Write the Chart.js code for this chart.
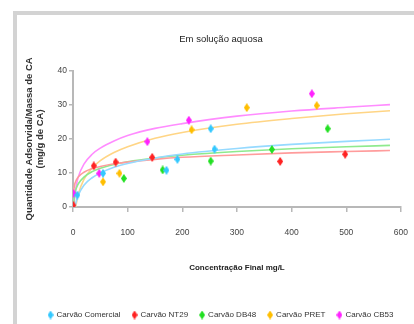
<!DOCTYPE html>
<html>
<head>
<meta charset="utf-8">
<script src="https://cdn.jsdelivr.net/npm/chart.js@4.4.1/dist/chart.umd.min.js"></script>
<style>
  html, body { margin: 0; padding: 0; width: 414px; height: 324px; overflow: hidden; background: #fff; }
  #frame { position: absolute; left: 13px; top: 11px; width: 420px; height: 330px;
           border-left: 4px solid #d3d3d3; border-top: 4px solid #d3d3d3; }
  #chart { position: absolute; left: 0; top: 0; }
</style>
</head>
<body>
<div id="frame"></div>
<canvas id="chart" width="424" height="329"></canvas>
<script>
// series names (legend)
const seriesNames = ["Carvão Comercial", "Carvão NT29", "Carvão DB48", "Carvão PRET", "Carvão CB53"];
const markerColors = ["#33C8FF", "#FF2222", "#22E022", "#FFBE00", "#FF22FF"];
const trendColors = ["#96DAFF", "#FF9C9C", "#8EEA8E", "#FFD585", "#FF8CFF"];

// measured points (final concentration mg/L, adsorbed mg/g)
const comercialX = [8, 55, 171, 191, 252, 259];
const comercialY = [3.5, 9.9, 10.8, 14, 23, 17];
const nt29X = [0.5, 38, 78, 145, 379, 498];
const nt29Y = [0.5, 12.1, 13.2, 14.6, 13.4, 15.5];
const db48X = [93, 164, 252, 364, 466];
const db48Y = [8.4, 10.9, 13.5, 16.9, 23];
const pretX = [55, 85, 217, 318, 446];
const pretY = [7.4, 9.9, 22.7, 29.2, 29.8];
const cb53X = [1, 48, 136, 212, 437];
const cb53Y = [4, 9.9, 19.2, 25.5, 33.3];

// trendlines
const trendX = [1, 3, 6, 10, 20, 35, 50, 75, 100, 150, 200, 300, 400, 500, 580];
const trendComercial = [-5.6, -1.2, 1.6, 3.6, 6.4, 8.6, 10.0, 11.7, 12.8, 14.4, 15.6, 17.2, 18.4, 19.3, 19.9];
const trendNT29 = [4.5, 6.6, 7.9, 8.9, 10.2, 11.3, 11.9, 12.7, 13.2, 14.0, 14.6, 15.3, 15.9, 16.3, 16.6];
const trendDB48 = [0.6, 3.6, 5.5, 6.9, 8.8, 10.4, 11.4, 12.5, 13.3, 14.4, 15.2, 16.3, 17.1, 17.7, 18.1];
const trendPRET = [-9.9, -3.3, 0.9, 3.9, 8.1, 11.4, 13.6, 16.0, 17.7, 20.2, 21.9, 24.3, 26.0, 27.4, 28.3];
const trendCB53 = [-3, 2.7, 6.3, 9.0, 12.6, 15.5, 17.3, 19.4, 21.0, 23.1, 24.5, 26.7, 28.2, 29.3, 30.1];

const xTicks = [0, 100, 200, 300, 400, 500, 600];
const yTicks = [0, 10, 20, 30, 40];

const pointsX = [comercialX, nt29X, db48X, pretX, cb53X];
const pointsY = [comercialY, nt29Y, db48Y, pretY, cb53Y];
const trends = [trendComercial, trendNT29, trendDB48, trendPRET, trendCB53];

const font = "'Liberation Sans Narrow', 'Arial Narrow', 'Liberation Sans', sans-serif";

// small diamond marker like excel
function diamond(color) {
  const c = document.createElement("canvas");
  c.width = 6;
  c.height = 9;
  const g = c.getContext("2d");
  g.fillStyle = color;
  g.beginPath();
  g.moveTo(3, 0);
  g.lineTo(6, 4.5);
  g.lineTo(3, 9);
  g.lineTo(0, 4.5);
  g.closePath();
  g.fill();
  return c;
}

const datasets = [];
seriesNames.forEach((name, i) => {
  datasets.push({
    label: name,
    data: pointsX[i].map((x, j) => ({ x: x, y: pointsY[i][j] })),
    pointStyle: diamond(markerColors[i]),
    backgroundColor: markerColors[i],
    borderColor: markerColors[i],
    showLine: false,
    order: 1,
  });
});
trends.forEach((t, i) => {
  datasets.push({
    label: "trend " + i,
    data: trendX.map((x, j) => ({ x: x, y: t[j] })),
    showLine: true,
    borderColor: trendColors[i],
    borderWidth: 1.6,
    pointRadius: 0,
    cubicInterpolationMode: "monotone",
    order: 2,
  });
});

new Chart(document.getElementById("chart"), {
  type: "scatter",
  data: { datasets: datasets },
  options: {
    responsive: false,
    animation: false,
    devicePixelRatio: 1,
    layout: { padding: { left: 33, right: 15, top: 0, bottom: 0 } },
    plugins: {
      tooltip: { enabled: false },
      title: {
        display: true,
        text: "Em solução aquosa",
        color: "#222",
        font: { family: font, size: 9.5, weight: "normal" },
        padding: { top: 33.5, bottom: 26 },
      },
      legend: {
        position: "bottom",
        labels: {
          usePointStyle: true,
          pointStyleWidth: 4,
          boxHeight: 6,
          padding: 12,
          color: "#333",
          font: { family: font, size: 8 },
          filter: (item) => item.datasetIndex < 5,
        },
      },
    },
    scales: {
      x: {
        type: "linear",
        min: 0,
        max: 600,
        afterBuildTicks: (axis) => { axis.ticks = xTicks.map((v) => ({ value: v })); },
        afterFit: (axis) => { axis.height = 92; },
        grid: { display: true, drawOnChartArea: false, drawTicks: true, tickLength: 5, color: "#b8b8b8", lineWidth: 1.5 },
        border: { display: true, color: "#b8b8b8", width: 2 },
        ticks: { color: "#444", padding: 16, font: { family: font, size: 8.5 } },
        title: {
          display: true,
          text: "Concentração Final mg/L",
          color: "#222",
          font: { family: font, size: 8, weight: "bold" },
          padding: { top: 0, bottom: 26 },
        },
      },
      y: {
        type: "linear",
        min: 0,
        max: 40,
        afterBuildTicks: (axis) => { axis.ticks = yTicks.map((v) => ({ value: v })); },
        afterFit: (axis) => { axis.width = 40; },
        grid: { display: true, drawOnChartArea: false, drawTicks: true, tickLength: 4, color: "#b8b8b8", lineWidth: 1.5 },
        border: { display: true, color: "#b8b8b8", width: 2 },
        ticks: { color: "#444", padding: 2, font: { family: font, size: 8.5 } },
        title: {
          display: true,
          text: ["Quantidade Adsorvida/Massa de CA", "(mg/g de CA)"],
          color: "#333",
          font: { family: "'Liberation Sans', sans-serif", size: 9.5, weight: "bold" },
          padding: { top: -9.7, bottom: 0 },
        },
      },
    },
  },
});
</script>
</body>
</html>
